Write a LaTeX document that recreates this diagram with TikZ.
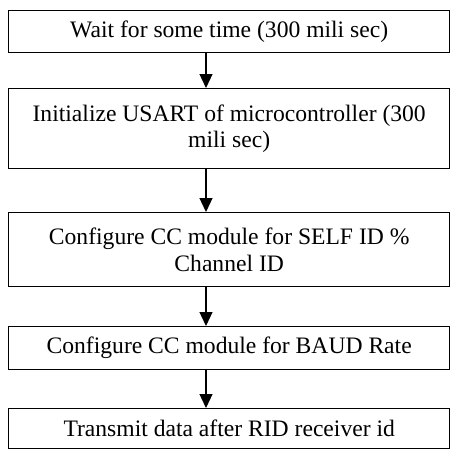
\documentclass[tikz,border=0pt]{standalone}
\usepackage{fontspec}
\setmainfont{Liberation Serif}
\usepackage{tikz}
\usetikzlibrary{arrows.meta,positioning,calc}

\begin{document}
\begin{tikzpicture}[>={Triangle[width=13pt,length=14pt]}, x=1pt, y=-1pt,
                    every node/.style={font=\fontsize{23.6}{26.5}\selectfont},
                    stepbox/.style={draw, line width=1.4pt, rectangle, anchor=north west,
                                    minimum width=441pt, inner sep=0pt, align=center}]
  % page
  \useasboundingbox (0,0) rectangle (450,448);
  \clip (0,0) rectangle (450,448);
  \fill[white] (0,0) rectangle (450,448);

  % flow steps
  \node[stepbox, minimum height=42pt] (wait) at (8,10)
       {Wait for some time (300 mili sec)};
  \node[stepbox, minimum height=80pt] (usart) at (8,88)
       {Initialize USART of microcontroller (300\\mili sec)};
  \node[stepbox, minimum height=74pt] (selfid) at (8,212)
       {Configure CC module for SELF ID \%\\Channel ID};
  \node[stepbox, minimum height=43pt] (baud) at (8,326)
       {Configure CC module for BAUD Rate};
  \node[stepbox, minimum height=40pt] (tx) at (8,408)
       {Transmit data after RID receiver id};

  % connectors along one vertical line
  \coordinate (flow) at (206,0);
  \draw[->, line width=1.2pt] (wait.south -| flow) -- (usart.north -| flow);
  \draw[->, line width=1.2pt] (usart.south -| flow) -- (selfid.north -| flow);
  \draw[->, line width=1.2pt] (selfid.south -| flow) -- (baud.north -| flow);
  \draw[->, line width=1.2pt] (baud.south -| flow) -- (tx.north -| flow);
\end{tikzpicture}
\end{document}
